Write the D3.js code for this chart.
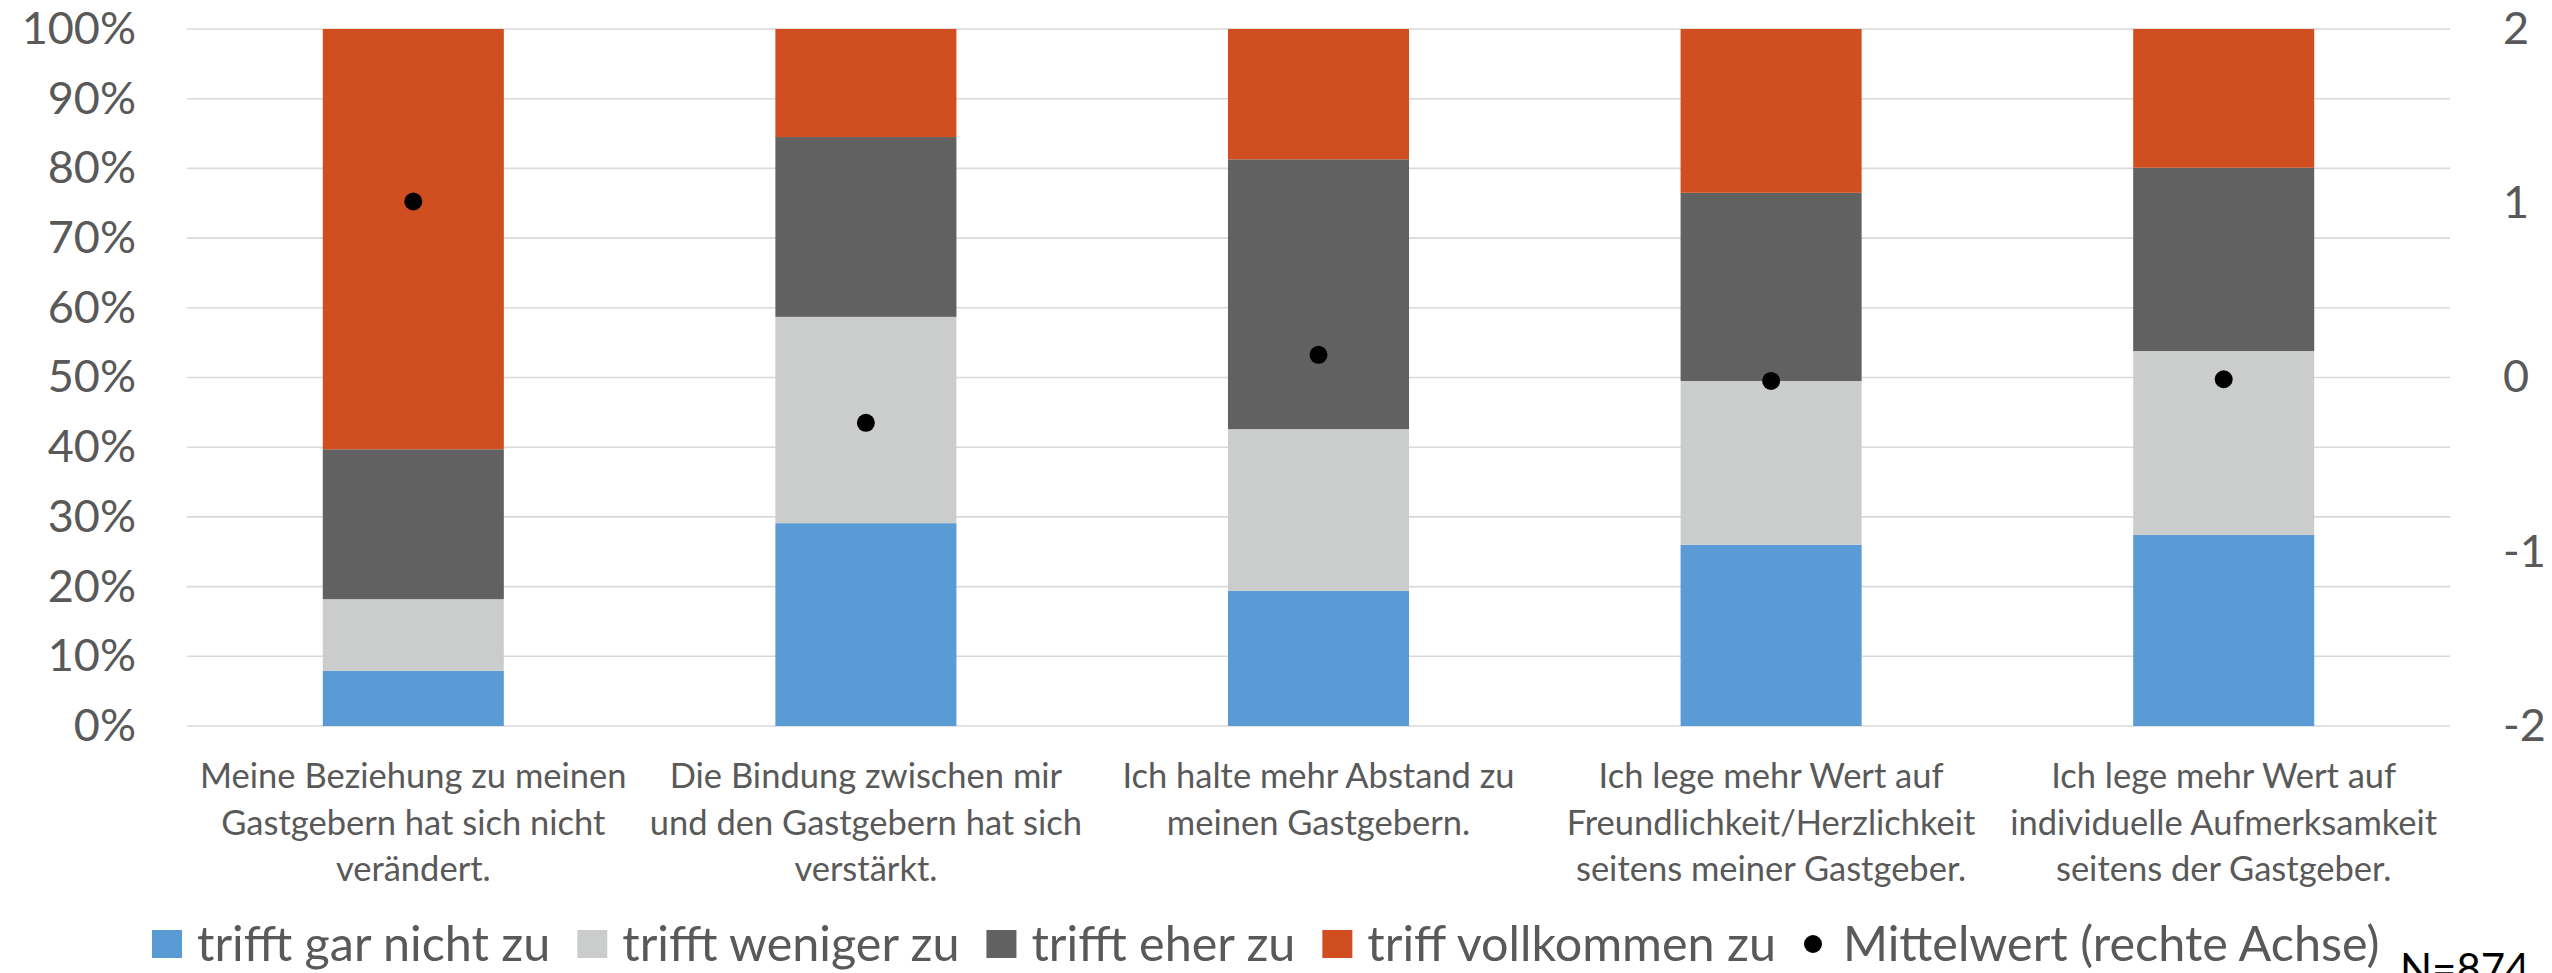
<!DOCTYPE html>
<html>
<head>
<meta charset="utf-8">
<script src="https://cdn.jsdelivr.net/npm/d3@7"></script>
<style>
  body { margin: 0; background: #fff; }
  text { font-family: "Lato", "Open Sans", sans-serif; }
</style>
</head>
<body>
<div id="js-chart"></div>
<script>
"use strict";

// Data
var categories = [
  ["Meine Beziehung zu meinen", "Gastgebern hat sich nicht", "verändert."],
  ["Die Bindung zwischen mir", "und den Gastgebern hat sich", "verstärkt."],
  ["Ich halte mehr Abstand zu", "meinen Gastgebern."],
  ["Ich lege mehr Wert auf", "Freundlichkeit/Herzlichkeit", "seitens meiner Gastgeber."],
  ["Ich lege mehr Wert auf", "individuelle Aufmerksamkeit", "seitens der Gastgeber."]
];
var seriesNames = ["trifft gar nicht zu", "trifft weniger zu", "trifft eher zu", "triff vollkommen zu"];
var garNicht   = [7.9, 29.1, 19.4, 26.0, 27.4];
var weniger    = [10.3, 29.6, 23.2, 23.5, 26.4];
var eher       = [21.5, 25.8, 38.7, 27.0, 26.3];
var vollkommen = [60.3, 15.5, 18.7, 23.5, 19.9];
var mittelwert = [1.01, -0.26, 0.13, -0.02, -0.01];
var meanLabel = "Mittelwert (rechte Achse)";
var leftTicks = [0, 10, 20, 30, 40, 50, 60, 70, 80, 90, 100];
var rightTicks = [-2, -1, 0, 1, 2];
var note = "N=874";

var colors = ["#5B9BD5", "#CBCDCC", "#616161", "#D04E1F"];
var textColor = "#595959";

var width = 2552, height = 973;
var plot = { left: 187, right: 2450, top: 29, bottom: 726 };

var svg = d3.select("#js-chart").append("svg")
  .attr("width", width)
  .attr("height", height);

var x = d3.scaleBand()
  .domain(d3.range(categories.length))
  .range([plot.left, plot.right])
  .paddingInner(0.6)
  .paddingOuter(0.3);

var y = d3.scaleLinear().domain([0, 100]).range([plot.bottom, plot.top]);
var y2 = d3.scaleLinear().domain([-2, 2]).range([plot.bottom, plot.top]);

// gridlines
svg.append("g")
  .selectAll("line")
  .data(leftTicks)
  .enter().append("line")
  .attr("x1", plot.left)
  .attr("x2", plot.right)
  .attr("y1", function(d) { return y(d); })
  .attr("y2", function(d) { return y(d); })
  .attr("stroke", "#D9D9D9")
  .attr("stroke-width", 1.6);

// left axis
var leftAxis = svg.append("g")
  .attr("transform", "translate(136,0)")
  .call(d3.axisLeft(y).tickValues(leftTicks).tickSize(0).tickPadding(0)
    .tickFormat(function(d) { return d + "%"; }));
leftAxis.select(".domain").remove();
leftAxis.selectAll("text")
  .attr("fill", textColor)
  .style("font-size", "45px")
  .style("font-family", "Lato");

// right axis
var rightAxis = svg.append("g")
  .attr("transform", "translate(2503,0)")
  .call(d3.axisRight(y2).tickValues(rightTicks).tickSize(0).tickPadding(0)
    .tickFormat(d3.format("d")));
rightAxis.select(".domain").remove();
rightAxis.selectAll("text")
  .attr("fill", textColor)
  .style("font-size", "45px")
  .style("font-family", "Lato")
  .text(function(d) { return String(d); });

// stacked bars
var rows = categories.map(function(c, i) {
  return { a: garNicht[i], b: weniger[i], c: eher[i], d: vollkommen[i] };
});
var stack = d3.stack().keys(["a", "b", "c", "d"]);
var layers = stack(rows);

svg.append("g")
  .selectAll("g")
  .data(layers)
  .enter().append("g")
  .attr("fill", function(d, i) { return colors[i]; })
  .selectAll("rect")
  .data(function(d) { return d; })
  .enter().append("rect")
  .attr("x", function(d, i) { return x(i); })
  .attr("width", x.bandwidth())
  .attr("y", function(d) { return y(d[1]); })
  .attr("height", function(d) { return y(d[0]) - y(d[1]); });

// mean markers
svg.append("g")
  .selectAll("circle")
  .data(mittelwert)
  .enter().append("circle")
  .attr("cx", function(d, i) { return x(i) + x.bandwidth() / 2; })
  .attr("cy", function(d) { return y2(d); })
  .attr("r", 9)
  .attr("fill", "#000");

// category labels
var catLabels = svg.append("g")
  .selectAll("text")
  .data(categories)
  .enter().append("text")
  .attr("text-anchor", "middle")
  .attr("fill", textColor)
  .style("font-size", "34.5px");
catLabels.selectAll("tspan")
  .data(function(d, i) { return d.map(function(line) { return { line: line, i: i }; }); })
  .enter().append("tspan")
  .attr("x", function(d) { return x(d.i) + x.bandwidth() / 2; })
  .attr("y", function(d, j) { return 788 + j * 46.5; })
  .text(function(d) { return d.line; });

// legend
var legend = svg.append("g");
var lx = 152, ly = 961;
seriesNames.forEach(function(name, i) {
  legend.append("rect")
    .attr("x", lx).attr("y", 930)
    .attr("width", 30).attr("height", 28)
    .attr("fill", colors[i]);
  var t = legend.append("text")
    .attr("x", lx + 45).attr("y", ly)
    .attr("fill", textColor)
    .style("font-size", "48.5px")
    .text(name);
  lx = lx + 45 + t.node().getComputedTextLength() + 27;
});
legend.append("circle")
  .attr("cx", lx + 10).attr("cy", 944)
  .attr("r", 9)
  .attr("fill", "#000");
legend.append("text")
  .attr("x", lx + 40).attr("y", ly)
  .attr("fill", textColor)
  .style("font-size", "48.5px")
  .text(meanLabel);

// sample size note
svg.append("text")
  .attr("x", 2400).attr("y", 984)
  .attr("fill", "#000")
  .style("font-size", "42px")
  .text(note);
</script>
</body>
</html>
